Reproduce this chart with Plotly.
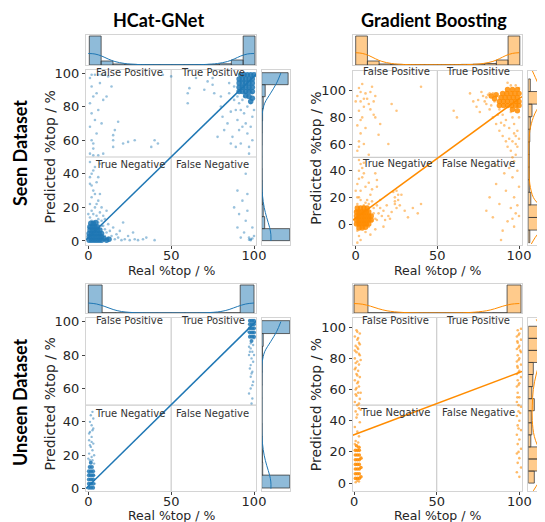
import plotly.graph_objects as go

# page body has an 8px margin: the figure is sized to fill the rest of the 545x522 window
OFF = 8
W, H = 545 - OFF, 522 - OFF

# ---------------- text ----------------
model_names = ["HCat-GNet", "Gradient Boosting"]
dataset_names = ["Seen Dataset", "Unseen Dataset"]
quadrant_names = ["False Positive", "True Positive", "True Negative", "False Negative"]
x_title = "Real %top / %"
y_title = "Predicted %top / %"
real_ticks = [0, 50, 100]
pred_ticks = [0, 20, 40, 60, 80, 100]

# ---------------- panel A: HCat-GNet, seen ----------------
seen_hcat_cloud = [
    (1, 14), (2, 18), (3, 16), (1, 22), (4, 20), (2, 26), (5, 15), (6, 13), (7, 17), (8, 12), (9, 9), (10, 7),
    (11, 5), (12, 10), (9, 15), (3, 30), (1, 34), (2, 40), (4, 44), (1, 47), (6, 24), (8, 20), (10, 13), (13, 6),
    (14, 3), (12, 2), (15, 8), (17, 4), (11, 18), (5, 35), (0, 8), (0, 16), (7, 28), (3, 11), (2, 12), (6, 11),
    (8, 9), (10, 3), (16, 1), (18, 2), (4, 28), (2, 33), (6, 38), (3, 42), (7, 46), (5, 22), (1, 38),
    (20, 0.5), (22, 1), (25, 0.5), (28, 1), (30, 0.5), (33, 1), (40, 0.5), (24, 3), (19, 6), (27, 5), (21, 11), (35, 2),
    (1, 52), (3, 55), (2, 60), (5, 64), (1, 68), (4, 72), (2, 76), (6, 78), (1, 82), (3, 86), (5, 88), (2, 92),
    (7, 94), (1, 97), (4, 99), (6, 99), (8, 99), (2, 99), (10, 99), (12, 98), (3, 58), (8, 70), (9, 84), (11, 86),
    (15, 56), (15, 60), (15, 63), (16, 66), (21, 58), (24, 59), (28, 60), (14, 92), (18, 71), (9, 52), (6, 51), (3, 51),
    (60, 82), (60, 88), (61, 91), (75, 97), (75, 93), (76, 88), (80, 86), (80, 80), (81, 74), (82, 66), (85, 94),
    (85, 88), (86, 77), (84, 70), (87, 62), (88, 84), (89, 78), (90, 72), (91, 66), (92, 58), (93, 84), (94, 76),
    (95, 70), (96, 64), (97, 56), (97, 52), (98, 82), (99, 74), (95, 88), (96, 80), (92, 78), (99, 60), (88, 92),
    (90, 86), (93, 68), (98, 68), (100, 78), (89, 56), (70, 90), (72, 95), (65, 97), (78, 62), (86, 58), (94, 86),
    (97, 90), (99, 88), (91, 82),
    (88, 20), (90, 8), (91, 16), (93, 24), (94, 5), (95, 12), (96, 28), (97, 2), (98, 1), (98, 0.5), (99, 1.5),
    (97, 0.8), (99, 8), (96, 18), (92, 2), (90, 30), (100, 3), (95, 40),
    (40, 60), (38, 56), (42, 58), (50, 98), (45, 99),
]
seen_hcat_core = [
    (0.5, 0.5), (2, 0.5), (3.5, 0.5), (5, 0.5), (6.5, 0.5), (8, 0.5), (11, 0.5), (12.5, 1),
    (0.5, 2.5), (2, 2.5), (3.5, 2.5), (5, 2.5), (6.5, 2.5), (8, 2.5), (9.5, 1.5),
    (0.5, 4.5), (2, 4.5), (3.5, 4.5), (5, 4.5), (6.5, 4.5), (8, 4.5),
    (1, 6.5), (2.5, 6.5), (4, 6.5), (5.5, 6.5), (7, 6.5),
    (1, 8.5), (2.5, 8.5), (4, 8.5), (5.5, 8.5), (1.5, 10.5), (3, 10.5), (4.5, 11),
    (91, 89), (93, 89), (95, 89), (97, 89), (99, 89),
    (91, 91.5), (93, 91.5), (95, 91.5), (97, 91.5), (99, 91.5),
    (91, 94), (93, 94), (95, 94), (97, 94), (99, 94),
    (91, 96.5), (93, 96.5), (95, 96.5), (97, 96.5), (99, 96.5),
    (92, 99), (94, 99), (96, 99), (98, 99), (100, 99),
    (95, 86.5), (97, 86), (99, 85), (98, 83),
]
seen_hcat_fit = [(-1.4, 0.7), (101.2, 99.2)]
seen_hcat_real_edges = [0.6, 7.74, 14.89, 22.03, 29.17, 36.31, 43.46, 50.6, 57.74, 64.89, 72.03, 79.17, 86.31, 93.46, 100.6]
seen_hcat_real_counts = [29, 4, 1, 0.6, 0.5, 0.4, 0.3, 0.3, 0.4, 0.5, 0.6, 1.2, 5, 29]
seen_hcat_real_kde_pos = [0, 4, 8, 12, 16, 22, 30, 50, 70, 78, 84, 88, 92, 96, 100]
seen_hcat_real_kde_val = [11.5, 11, 9, 6, 3.5, 1.5, 0.5, 0.2, 0.5, 1.5, 3.5, 6, 9, 11, 11.5]
seen_hcat_pred_edges = [0.2, 7.34, 14.49, 21.63, 28.77, 35.91, 43.06, 50.2, 57.34, 64.49, 71.63, 78.77, 85.91, 93.06, 100.2]
seen_hcat_pred_counts = [28.3, 3, 1.5, 0.8, 0.6, 0.5, 0.4, 0.4, 0.5, 0.6, 0.9, 1.5, 3.5, 26.6]
seen_hcat_pred_kde_pos = [0, 4, 8, 14, 20, 27, 34, 50, 70, 76, 82, 88, 94, 100]
seen_hcat_pred_kde_val = [9.3, 9.2, 8, 5, 2.5, 0.8, 0.1, 0, 0.1, 0.6, 3, 9, 15, 19.3]

# ---------------- panel B: Gradient Boosting, seen ----------------
seen_gb_cloud = [
    (1, 15), (2, 20), (3, 25), (1, 30), (4, 35), (2, 40), (3, 45), (1, -5), (2, -9), (4, -3), (6, -6), (3, -12),
    (8, -2), (10, 2), (12, 4), (14, 8), (16, 6), (11, 12), (13, 14), (15, 18), (7, 18), (9, 22), (5, 14), (6, 28),
    (0, 10), (0, 4), (18, 3), (20, 6), (22, 9), (24, 15), (24, 20), (25, 25), (26, 18), (25, 12), (28, 22), (23, 24),
    (30, 10), (32, 5), (35, 12), (38, 8), (40, 15), (12, -4), (9, -8), (1, -14), (17, -2), (5, 38), (2, 48), (4, 42),
    (8, 31), (10, 26), (13, 28), (13, 33), (12, 38), (11, 8), (13, 3), (15, 12), (17, 10), (19, 14), (21, 4),
    (6, 16), (8, 15), (3, 18), (10, 17), (26, 22), (24, 17), (27, 14), (1, 20), (2, 34), (0, 25), (5, 46),
    (1, 55), (2, 62), (3, 68), (1, 74), (4, 80), (2, 85), (5, 88), (3, 92), (1, 96), (6, 98), (2, 102), (4, 105),
    (7, 94), (8, 90), (3, 78), (10, 103), (9, 86), (5, 60), (6, 72), (2, 58), (11, 82), (8, 52), (15, 75), (14, 67),
    (22, 90), (25, 85), (40, 103), (20, 60), (12, 96), (0, 92), (3, 99), (5, 94), (9, 99), (12, 80), (11, 92),
    (60, 85), (62, 80), (70, 98), (72, 92), (74, 88), (76, 84), (78, 96), (80, 90), (82, 86), (84, 80), (86, 75),
    (88, 70), (90, 66), (92, 62), (93, 58), (95, 55), (96, 50), (97, 47), (98, 60), (99, 70), (97, 75), (96, 80),
    (95, 84), (94, 72), (92, 78), (90, 82), (88, 86), (85, 92), (82, 98), (80, 95), (77, 99), (75, 93), (86, 96),
    (84, 98), (89, 76), (98, 66), (100, 80), (99, 88), (98, 104), (100, 102), (95, 104), (93, 106), (96, 62),
    (94, 64), (79, 92), (81, 97), (83, 89), (87, 82), (91, 74), (97, 68), (99, 58), (98, 52), (100, 64),
    (80, 10), (82, 20), (84, 5), (86, 30), (88, 15), (90, -5), (92, 25), (93, 2), (95, 12), (96, 35), (97, 20),
    (98, 8), (99, 40), (100, 28), (94, 42), (91, 38), (89, -12), (97, -2), (99, 14), (86, 44), (100, 6), (96, 4),
]
seen_gb_core = [
    (0.5, 0), (2, 0), (3.5, 0), (5, 0), (6.5, 0), (8, 0),
    (0.5, 3), (2, 3), (3.5, 3), (5, 3), (6.5, 3), (8, 3), (9.5, 3),
    (0.5, 6), (2, 6), (3.5, 6), (5, 6), (6.5, 6), (8, 6), (9.5, 6),
    (0.5, 9), (2, 9), (3.5, 9), (5, 9), (6.5, 9), (8, 9),
    (1, 12), (3, 12), (5, 12), (7, 12), (2, -3), (4, -3), (6, -2.5),
    (88, 89), (90.5, 89), (93, 89), (95.5, 89), (98, 89), (100, 89),
    (88, 92), (90.5, 92), (93, 92), (95.5, 92), (98, 92), (100, 92),
    (89, 95), (91.5, 95), (94, 95), (96.5, 95), (99, 95),
    (90, 98), (92.5, 98), (95, 98), (97.5, 98), (100, 98),
    (93, 101), (96, 101), (99, 101), (85, 94), (86, 97), (83, 96), (96, 86), (99, 85),
]
seen_gb_fit = [(-1.8, 2.9), (101.8, 95.6)]
seen_gb_real_edges = [0, 7.18, 14.36, 21.54, 28.71, 35.89, 43.07, 50.25, 57.43, 64.61, 71.79, 78.96, 86.14, 93.32, 100.5]
seen_gb_real_counts = [29, 4, 1, 0.6, 0.5, 0.5, 0.4, 0.4, 0.5, 0.6, 0.8, 1.5, 5, 29]
seen_gb_real_kde_pos = [0, 4, 8, 12, 16, 22, 30, 50, 70, 78, 84, 88, 92, 96, 100]
seen_gb_real_kde_val = [12.3, 11.6, 9.5, 6.3, 3.6, 1.5, 0.5, 0.2, 0.5, 1.5, 3.6, 6.3, 9.5, 11.6, 12.3]
seen_gb_pred_edges = [-14, -4.55, 4.9, 14.35, 23.8, 33.25, 42.7, 52.15, 61.6, 71.05, 80.5, 89.95, 99.4, 108.85]
seen_gb_pred_counts = [1.5, 26, 9.7, 2.5, 1, 1, 1, 1, 1.5, 2, 3.7, 26, 2]
seen_gb_pred_kde_pos = [-15, -10, -5, 0, 5, 10, 15, 20, 30, 40, 50, 60, 70, 80, 85, 90, 95, 100, 105, 110, 115]
seen_gb_pred_kde_val = [3, 7, 12, 16, 17.5, 15, 10, 5, 1.5, 0.6, 0.4, 0.5, 1.5, 5, 8, 12, 13.4, 12.5, 10, 7, 4]

# ---------------- panel C: HCat-GNet, unseen ----------------
unseen_hcat_cloud = [
    (1, 17), (2, 19), (0.5, 21), (2.5, 23), (1.5, 25), (3, 27), (0.5, 29), (2, 31), (1, 34), (3, 36), (2, 38),
    (1, 40), (3, 42), (1.5, 44), (2.5, 46), (3.5, 15), (3.5, 8), (4, 3), (0, 18), (2.5, 17), (1, 26), (0.5, 9),
    (3.5, 20), (2, 28), (0.5, 33), (2.5, 35),
    (98, 84), (99, 82), (97, 80), (98.5, 78), (99.5, 76), (98, 74), (97.5, 72), (99, 70), (98, 67), (99.5, 64),
    (98, 60), (97, 57), (99, 54), (98.5, 51), (100, 80), (97, 85), (96.5, 94), (100, 90), (99, 62), (98, 87),
    (99.5, 86), (97.5, 82), (98.5, 69),
]
unseen_hcat_core = [
    (0.3, 0.5), (1.6, 0.5), (2.9, 0.5), (0.3, 3), (1.6, 3), (2.9, 3), (0.3, 5.5), (1.6, 5.5), (2.9, 5.5),
    (0.3, 8), (1.6, 8), (2.9, 8), (0.3, 10.5), (1.6, 10.5), (2.9, 10.5), (0.8, 13), (2.2, 13), (1.5, 15.5),
    (97.5, 91), (98.8, 91), (100, 91), (97.5, 93.5), (98.8, 93.5), (100, 93.5), (97.5, 96), (98.8, 96), (100, 96),
    (97.5, 98.5), (98.8, 98.5), (100, 98.5), (97.5, 100.5), (98.8, 100.5), (100, 100.5), (98.5, 88.5),
]
unseen_hcat_fit = [(-1.4, 0.1), (101.2, 100.2)]
unseen_hcat_real_edges = [0, 8.33, 16.67, 25, 33.33, 41.67, 50, 58.33, 66.67, 75, 83.33, 91.67, 100]
unseen_hcat_real_counts = [28, 0.3, 0.2, 0.2, 0.2, 0.2, 0.2, 0.2, 0.2, 0.2, 0.3, 28]
unseen_hcat_real_kde_pos = [0, 5, 10, 15, 20, 30, 50, 70, 80, 85, 90, 95, 100]
unseen_hcat_real_kde_val = [10, 9, 6.5, 3.5, 1.5, 0.2, 0, 0.2, 1.5, 3.5, 6.5, 9, 10]
unseen_hcat_pred_edges = [0.4, 8.11, 15.82, 23.52, 31.23, 38.94, 46.65, 54.35, 62.06, 69.77, 77.48, 85.18, 92.89, 100.6]
unseen_hcat_pred_counts = [28.3, 1, 0.8, 0.6, 0.5, 0.4, 0.4, 0.4, 0.5, 0.6, 0.8, 1.5, 28.3]
unseen_hcat_pred_kde_pos = [0, 4, 8, 14, 20, 27, 34, 50, 70, 76, 82, 88, 94, 100]
unseen_hcat_pred_kde_val = [9.3, 9.2, 8, 5, 2.5, 0.8, 0.1, 0, 0.1, 0.6, 3, 9, 15, 19.3]

# ---------------- panel D: Gradient Boosting, unseen ----------------
unseen_gb_cloud = [
    (1, 46), (3, 48), (2, 50), (0.5, 52), (3.5, 54), (1.5, 56), (2.5, 58), (1, 60), (3, 62), (2, 64), (0.5, 66),
    (3.5, 68), (1.5, 70), (2.5, 72), (1, 74), (3, 76), (2, 78), (0.5, 80), (3.5, 82), (1.5, 84), (2.5, 86), (1, 88),
    (3, 90), (2, 92), (0.5, 94), (3.5, 96), (1.5, 98), (2, 87), (3, 83), (1, 77), (2.5, 65), (1, 57), (3, 51),
    (2, 69), (0.5, 73), (3.5, 89), (2.5, 93), (1.5, 61), (4, 79), (0.5, 85), (4, 58), (2, 97),
    (1, 27), (3, 30), (2, 33), (0.5, 36), (3.5, 39), (1.5, 42), (2.5, 26), (1, 0.5), (2, 1.5), (3, 1), (0.5, 25),
    (2, 44), (4, 47),
    (98.5, 62), (100, 64), (99, 66), (101, 68), (98.5, 70), (100, 72), (99, 74), (101, 76), (98.5, 78), (100, 80),
    (99, 82), (101, 84), (98.5, 86), (100, 88), (99, 90), (101, 92), (98.5, 94), (100, 96), (99, 98), (101, 99),
    (99.5, 63), (99.5, 71), (99.5, 79), (99.5, 87), (99.5, 95), (98.8, 91), (100.5, 85), (98.8, 75),
    (99, 58), (100, 55), (98.5, 52), (101, 49), (99.5, 46), (98.5, 43), (100, 40), (99, 37), (101, 34), (98.5, 31),
    (100, 28), (99, 25), (101, 22), (98.5, 19), (100, 16), (99, 13), (101, 10), (98.5, 7), (100, 4), (99.5, 50),
    (99.5, 35), (100.5, 45), (98.8, 55), (99.5, 20),
]
unseen_gb_core = [
    (0.8, 3), (2, 3), (3.2, 3), (4.2, 4), (0.8, 6), (2, 6), (3.2, 6), (0.8, 9), (2, 9), (3.2, 9), (4.2, 10),
    (0.8, 12), (2, 12), (3.2, 12), (0.8, 15), (2, 15), (3.2, 15), (4.2, 16), (0.8, 18), (2, 18), (3.2, 18),
    (0.8, 21), (2, 21), (3.2, 21), (1.5, 24), (3, 23),
]
unseen_gb_fit = [(-0.8, 30.7), (101.6, 71.6)]
unseen_gb_real_edges = [0, 8.42, 16.83, 25.25, 33.67, 42.08, 50.5, 58.92, 67.33, 75.75, 84.17, 92.58, 101]
unseen_gb_real_counts = [28, 0.3, 0.2, 0.2, 0.2, 0.2, 0.2, 0.2, 0.2, 0.2, 0.3, 28]
unseen_gb_real_kde_pos = [0, 5, 10, 15, 20, 30, 50, 70, 80, 85, 90, 95, 100]
unseen_gb_real_kde_val = [9.5, 8.8, 6.8, 4.2, 2.2, 0.5, 0, 0.5, 2.2, 4.2, 6.8, 8.8, 9.5]
unseen_gb_pred_edges = [0, 7.74, 15.48, 23.22, 30.95, 38.69, 46.43, 54.17, 61.91, 69.65, 77.38, 85.12, 92.86, 100.6]
unseen_gb_pred_counts = [6, 26, 10, 2.5, 3.5, 3, 6, 3.5, 4.5, 5, 10, 26, 12]
unseen_gb_pred_kde_pos = [-5, 0, 5, 10, 15, 20, 30, 40, 50, 60, 70, 80, 85, 90, 95, 100, 105]
unseen_gb_pred_kde_val = [5, 10, 16, 18, 16, 12, 6, 4, 4, 5, 8, 13, 16, 17, 15, 12, 8]

# ---------------- styles / layout ----------------
BLUE = "#1f77b4"
ORANGE = "#ff8c00"
BLUE_FILL = "rgba(31,119,180,0.5)"
ORANGE_FILL = "rgba(255,140,0,0.45)"
FRAME = "#d4d4d4"
TXT = "#262626"
TICK_FONT = dict(family="DejaVu Sans", size=13, color=TXT)

panels = [
    dict(cloud=seen_hcat_cloud, core=seen_hcat_core, fit=seen_hcat_fit,
         re=seen_hcat_real_edges, rc=seen_hcat_real_counts, rkp=seen_hcat_real_kde_pos, rkv=seen_hcat_real_kde_val,
         pe=seen_hcat_pred_edges, pc=seen_hcat_pred_counts, pkp=seen_hcat_pred_kde_pos, pkv=seen_hcat_pred_kde_val,
         color=BLUE, fill=BLUE_FILL, box=(86, 256, 70, 245), top=(35, 65), right=(261.7, 290),
         xr=[-1.4, 101.2], yr=[-2.4, 101.8], top_max=30, right_max=28.5, qy=(100.6, 45.3),
         core_size=5.5, cloud_size=2.6, cloud_op=0.45, xt_y=270),
    dict(cloud=seen_gb_cloud, core=seen_gb_core, fit=seen_gb_fit,
         re=seen_gb_real_edges, rc=seen_gb_real_counts, rkp=seen_gb_real_kde_pos, rkv=seen_gb_real_kde_val,
         pe=seen_gb_pred_edges, pc=seen_gb_pred_counts, pkp=seen_gb_pred_kde_pos, pkv=seen_gb_pred_kde_val,
         color=ORANGE, fill=ORANGE_FILL, box=(352.7, 522, 71, 245), top=(35, 65), right=(528.3, 545),
         xr=[-1.84, 101.84], yr=[-15.75, 114.8], top_max=30, right_max=16.7, qy=(114.2, 45.3),
         core_size=5.5, cloud_size=2.6, cloud_op=0.5, xt_y=270),
    dict(cloud=unseen_hcat_cloud, core=unseen_hcat_core, fit=unseen_hcat_fit,
         re=unseen_hcat_real_edges, rc=unseen_hcat_real_counts, rkp=unseen_hcat_real_kde_pos, rkv=unseen_hcat_real_kde_val,
         pe=unseen_hcat_pred_edges, pc=unseen_hcat_pred_counts, pkp=unseen_hcat_pred_kde_pos, pkv=unseen_hcat_pred_kde_val,
         color=BLUE, fill=BLUE_FILL, box=(86, 256, 318, 491), top=(284, 313), right=(261.7, 290),
         xr=[-1.4, 101.2], yr=[-1.4, 102.2], top_max=29, right_max=28.5, qy=(100.6, 45.3),
         core_size=4, cloud_size=2.4, cloud_op=0.5, xt_y=515.5),
    dict(cloud=unseen_gb_cloud, core=unseen_gb_core, fit=unseen_gb_fit,
         re=unseen_gb_real_edges, rc=unseen_gb_real_counts, rkp=unseen_gb_real_kde_pos, rkv=unseen_gb_real_kde_val,
         pe=unseen_gb_pred_edges, pc=unseen_gb_pred_counts, pkp=unseen_gb_pred_kde_pos, pkv=unseen_gb_pred_kde_val,
         color=ORANGE, fill=ORANGE_FILL, box=(352.7, 522, 318, 491), top=(284, 313), right=(528.3, 545),
         xr=[-0.8, 101.6], yr=[-5.07, 105.9], top_max=29, right_max=16.7, qy=(104.2, 45.3),
         core_size=3.6, cloud_size=2.6, cloud_op=0.6, xt_y=515.5),
]


def px(v):
    return (v - OFF) / W


def py(v):
    return 1 - (v - OFF) / H


def dx(a, b):
    return [max(px(a), 0.0), min(px(b), 1.0)]


def dy(top, bottom):
    return [max(py(bottom), 0.0), min(py(top), 1.0)]


def sfx(n):
    return "" if n == 1 else str(n)


fig = go.Figure()
layout_axes = {}
shapes = []
annotations = []

for i, p in enumerate(panels):
    m, t, r = 3 * i + 1, 3 * i + 2, 3 * i + 3
    x0, x1, y0, y1 = p["box"]
    col = p["color"]

    base = dict(showgrid=False, zeroline=False, showline=True, linecolor=FRAME, linewidth=1, mirror=True)
    layout_axes["xaxis" + sfx(m)] = dict(base, domain=dx(x0, x1), range=p["xr"], anchor="y" + sfx(m),
                                         tickvals=real_ticks, ticks="outside", ticklen=3, tickcolor="#444",
                                         ticklabelstandoff=-5, tickfont=TICK_FONT)
    layout_axes["yaxis" + sfx(m)] = dict(base, domain=dy(y0, y1), range=p["yr"], anchor="x" + sfx(m),
                                         tickvals=pred_ticks, ticks="outside", ticklen=3, tickcolor="#444",
                                         tickfont=TICK_FONT)
    layout_axes["xaxis" + sfx(t)] = dict(base, domain=dx(x0, x1), range=p["xr"], anchor="y" + sfx(t),
                                         showticklabels=False, ticks="")
    layout_axes["yaxis" + sfx(t)] = dict(base, domain=dy(*p["top"]), range=[0, p["top_max"]], anchor="x" + sfx(t),
                                         showticklabels=False, ticks="")
    layout_axes["xaxis" + sfx(r)] = dict(base, domain=dx(*p["right"]), range=[0, p["right_max"]],
                                         anchor="y" + sfx(r), showticklabels=False, ticks="")
    layout_axes["yaxis" + sfx(r)] = dict(base, domain=dy(y0, y1), range=p["yr"], anchor="x" + sfx(r),
                                         showticklabels=False, ticks="")

    xm, ym = "x" + sfx(m), "y" + sfx(m)
    xt, yt = "x" + sfx(t), "y" + sfx(t)
    xr_, yr_ = "x" + sfx(r), "y" + sfx(r)

    shapes.append(dict(type="line", xref=xm, yref=ym + " domain", x0=50, x1=50, y0=0, y1=1,
                       line=dict(color="#cccccc", width=1.2), layer="below"))
    shapes.append(dict(type="line", xref=xm + " domain", yref=ym, x0=0, x1=1, y0=50, y1=50,
                       line=dict(color="#cccccc", width=1.2), layer="below"))

    fig.add_trace(go.Scatter(x=[a for a, b in p["cloud"]], y=[b for a, b in p["cloud"]], mode="markers",
                             marker=dict(color=col, size=p["cloud_size"], opacity=p["cloud_op"], line=dict(width=0)),
                             xaxis=xm, yaxis=ym, hoverinfo="skip"))
    fig.add_trace(go.Scatter(x=[a for a, b in p["core"]], y=[b for a, b in p["core"]], mode="markers",
                             marker=dict(color=col, size=p["core_size"], opacity=0.85, line=dict(width=0)),
                             xaxis=xm, yaxis=ym, hoverinfo="skip"))
    fig.add_trace(go.Scatter(x=[a for a, b in p["fit"]], y=[b for a, b in p["fit"]], mode="lines",
                             line=dict(color=col, width=1.5), xaxis=xm, yaxis=ym, hoverinfo="skip"))

    e = p["re"]
    fig.add_trace(go.Bar(x=[(e[k] + e[k + 1]) / 2 for k in range(len(e) - 1)], y=p["rc"],
                         width=[e[k + 1] - e[k] for k in range(len(e) - 1)],
                         marker=dict(color=p["fill"], line=dict(color="#3c3c3c", width=0.8)),
                         xaxis=xt, yaxis=yt, hoverinfo="skip"))
    fig.add_trace(go.Scatter(x=p["rkp"], y=p["rkv"], mode="lines", line=dict(color=col, width=1, shape="spline"),
                             xaxis=xt, yaxis=yt, hoverinfo="skip"))

    e = p["pe"]
    fig.add_trace(go.Bar(y=[(e[k] + e[k + 1]) / 2 for k in range(len(e) - 1)], x=p["pc"], orientation="h",
                         width=[e[k + 1] - e[k] for k in range(len(e) - 1)],
                         marker=dict(color=p["fill"], line=dict(color="#3c3c3c", width=0.8)),
                         xaxis=xr_, yaxis=yr_, hoverinfo="skip"))
    fig.add_trace(go.Scatter(y=p["pkp"], x=p["pkv"], mode="lines", line=dict(color=col, width=1, shape="spline"),
                             xaxis=xr_, yaxis=yr_, hoverinfo="skip"))

    qt, qb = p["qy"]
    for name, qx, qyy in zip(quadrant_names, [25, 75, 25, 75], [qt, qt, qb, qb]):
        annotations.append(dict(text=name, x=qx, y=qyy, xref=xm, yref=ym, showarrow=False,
                                xanchor="center", yanchor="middle",
                                font=dict(family="DejaVu Sans", size=10, color="#333333")))

    annotations.append(dict(text=y_title, x=px(x0 - 37), y=py((y0 + y1) / 2), xref="paper", yref="paper",
                            xanchor="center", yanchor="middle",
                            textangle=-90, showarrow=False, font=dict(family="DejaVu Sans", size=14, color=TXT)))
    annotations.append(dict(text=x_title, x=px((x0 + x1) / 2), y=py(p["xt_y"]), xref="paper", yref="paper",
                            xanchor="center", yanchor="middle",
                            showarrow=False, font=dict(family="DejaVu Sans", size=12.5, color=TXT)))

for name, cx in zip(model_names, [158, 434]):
    annotations.append(dict(text="<b>" + name + "</b>", x=px(cx), y=py(20), xref="paper", yref="paper",
                            xanchor="center", yanchor="middle",
                            showarrow=False, font=dict(family="Lato", size=18, color="#000000")))
for name, cy in zip(dataset_names, [153, 402]):
    annotations.append(dict(text="<b>" + name + "</b>", x=px(20), y=py(cy), xref="paper", yref="paper",
                            xanchor="center", yanchor="middle",
                            textangle=-90, showarrow=False, font=dict(family="Lato", size=18, color="#000000")))

fig.update_layout(
    width=W, height=H, margin=dict(l=0, r=0, t=0, b=0),
    paper_bgcolor="white", plot_bgcolor="white", template="none",
    showlegend=False, barmode="overlay",
    shapes=shapes, annotations=annotations,
    **layout_axes,
)

fig.write_html("out.html")
